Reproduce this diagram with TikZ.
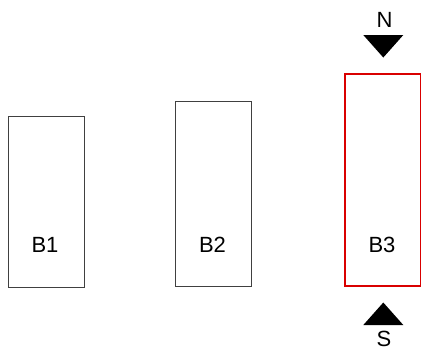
\documentclass[tikz,border=0pt]{standalone}
\usepackage{fontspec}
\setmainfont{Liberation Sans}
\begin{document}
\begin{tikzpicture}[x=1pt,y=-1pt,
  blk/.style={draw=black!75,line width=1pt,minimum width=76pt,inner sep=0pt},
  lbl/.style={font=\fontsize{22}{26}\selectfont,inner sep=0pt},
  tri/.style={fill=black,draw=none}]
\useasboundingbox (0,0) rectangle (422,354);
\node[blk,minimum height=171pt] (b1) at (46,202) {};
\node[blk,minimum height=185pt] (b2) at (213.5,194) {};
\node[blk,draw=red!85!black,line width=1.3pt,minimum width=75.5pt,minimum height=212pt] (b3) at (382.6,180) {};
\node[lbl] (t1) at (45,245) {B1};
\node[lbl] (t2) at (212.5,245) {B2};
\node[lbl] (t3) at (382,245) {B3};
\node[lbl] (n) at (384.5,19.5) {N};
\node[lbl] (s) at (384,338.5) {S};
\fill[tri] (363.3,35) -- (403.3,35) -- (383.3,57.5) -- cycle;
\fill[tri] (363.3,325) -- (403.3,325) -- (383.3,302.5) -- cycle;
\end{tikzpicture}
\end{document}
